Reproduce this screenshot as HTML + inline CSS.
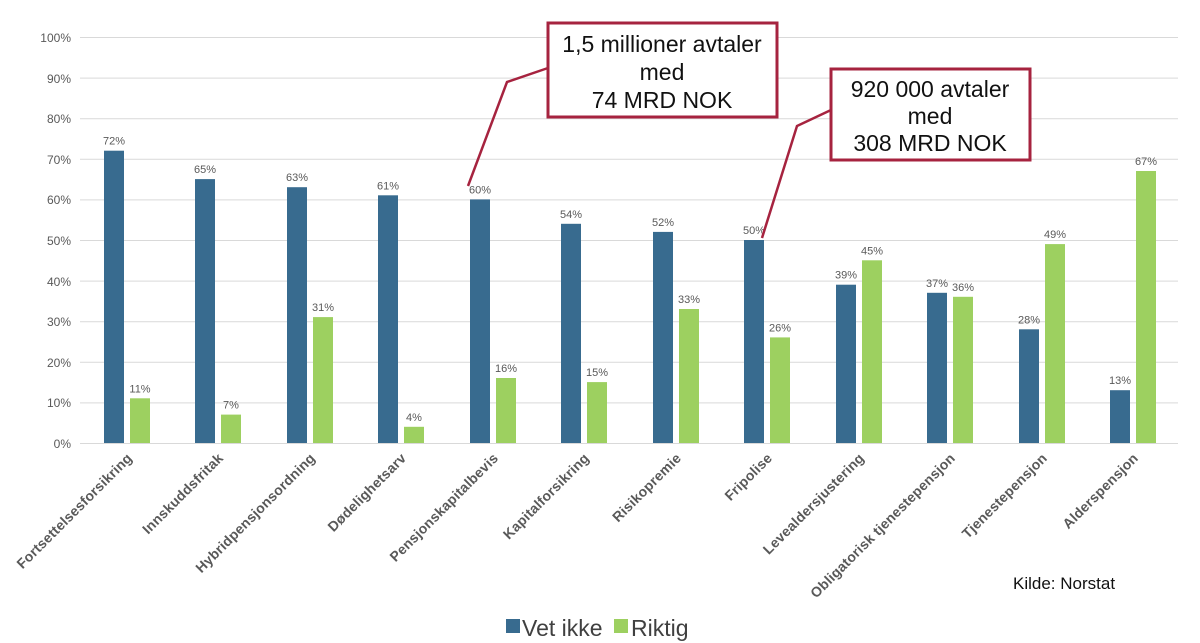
<!DOCTYPE html>
<html><head><meta charset="utf-8"><style>
html,body{margin:0;padding:0;background:#fff;}
svg{display:block;font-family:"Liberation Sans",Arial,sans-serif;}
</style></head><body>
<svg width="1200" height="643" viewBox="0 0 1200 643">
<g stroke="#d9d9d9" stroke-width="1">
<line x1="80" x2="1178" y1="443.5" y2="443.5"/>
<line x1="80" x2="1178" y1="402.9" y2="402.9"/>
<line x1="80" x2="1178" y1="362.3" y2="362.3"/>
<line x1="80" x2="1178" y1="321.7" y2="321.7"/>
<line x1="80" x2="1178" y1="281.1" y2="281.1"/>
<line x1="80" x2="1178" y1="240.5" y2="240.5"/>
<line x1="80" x2="1178" y1="199.9" y2="199.9"/>
<line x1="80" x2="1178" y1="159.3" y2="159.3"/>
<line x1="80" x2="1178" y1="118.7" y2="118.7"/>
<line x1="80" x2="1178" y1="78.1" y2="78.1"/>
<line x1="80" x2="1178" y1="37.5" y2="37.5"/>
</g>
<g font-size="12" fill="#595959" text-anchor="end">
<text x="71" y="448">0%</text><text x="71" y="407">10%</text><text x="71" y="367">20%</text>
<text x="71" y="326">30%</text><text x="71" y="286">40%</text><text x="71" y="245">50%</text>
<text x="71" y="204">60%</text><text x="71" y="164">70%</text><text x="71" y="123">80%</text>
<text x="71" y="83">90%</text><text x="71" y="42">100%</text>
</g>
<g fill="#386b8f">
<rect x="104" y="150.7" width="20" height="292.3"/>
<rect x="195" y="179.1" width="20" height="263.9"/>
<rect x="287" y="187.2" width="20" height="255.8"/>
<rect x="378" y="195.3" width="20" height="247.7"/>
<rect x="470" y="199.4" width="20" height="243.6"/>
<rect x="561" y="223.8" width="20" height="219.2"/>
<rect x="653" y="231.9" width="20" height="211.1"/>
<rect x="744" y="240" width="20" height="203"/>
<rect x="836" y="284.7" width="20" height="158.3"/>
<rect x="927" y="292.8" width="20" height="150.2"/>
<rect x="1019" y="329.3" width="20" height="113.7"/>
<rect x="1110" y="390.2" width="20" height="52.8"/>
</g>
<g fill="#9dd060">
<rect x="130" y="398.3" width="20" height="44.7"/>
<rect x="221" y="414.6" width="20" height="28.4"/>
<rect x="313" y="317.1" width="20" height="125.9"/>
<rect x="404" y="426.8" width="20" height="16.2"/>
<rect x="496" y="378" width="20" height="65"/>
<rect x="587" y="382.1" width="20" height="60.9"/>
<rect x="679" y="309" width="20" height="134"/>
<rect x="770" y="337.4" width="20" height="105.6"/>
<rect x="862" y="260.3" width="20" height="182.7"/>
<rect x="953" y="296.8" width="20" height="146.2"/>
<rect x="1045" y="244.1" width="20" height="198.9"/>
<rect x="1136" y="171" width="20" height="272"/>
</g>
<g font-size="11" fill="#595959" text-anchor="middle">
<text x="114" y="144.7">72%</text><text x="140" y="392.3">11%</text>
<text x="205" y="173.1">65%</text><text x="231" y="408.6">7%</text>
<text x="297" y="181.2">63%</text><text x="323" y="311.1">31%</text>
<text x="388" y="189.3">61%</text><text x="414" y="420.8">4%</text>
<text x="480" y="193.4">60%</text><text x="506" y="372">16%</text>
<text x="571" y="217.8">54%</text><text x="597" y="376.1">15%</text>
<text x="663" y="225.9">52%</text><text x="689" y="303">33%</text>
<text x="754" y="234">50%</text><text x="780" y="331.4">26%</text>
<text x="846" y="278.7">39%</text><text x="872" y="254.3">45%</text>
<text x="937" y="286.8">37%</text><text x="963" y="290.8">36%</text>
<text x="1029" y="323.3">28%</text><text x="1055" y="238.1">49%</text>
<text x="1120" y="384.2">13%</text><text x="1146" y="165">67%</text>
</g>
<g font-size="14" font-weight="bold" fill="#595959" text-anchor="end" letter-spacing="0.2">
<text transform="translate(133,459) rotate(-45)">Fortsettelsesforsikring</text>
<text transform="translate(224,459) rotate(-45)">Innskuddsfritak</text>
<text transform="translate(316,459) rotate(-45)">Hybridpensjonsordning</text>
<text transform="translate(407,459) rotate(-45)">Dødelighetsarv</text>
<text transform="translate(499,459) rotate(-45)">Pensjonskapitalbevis</text>
<text transform="translate(590,459) rotate(-45)">Kapitalforsikring</text>
<text transform="translate(682,459) rotate(-45)">Risikopremie</text>
<text transform="translate(773,459) rotate(-45)">Fripolise</text>
<text transform="translate(865,459) rotate(-45)">Levealdersjustering</text>
<text transform="translate(956,459) rotate(-45)">Obligatorisk tjenestepensjon</text>
<text transform="translate(1048,459) rotate(-45)">Tjenestepensjon</text>
<text transform="translate(1139,459) rotate(-45)">Alderspensjon</text>
</g>
<g fill="none" stroke="#a6233f" stroke-width="2.5">
<polyline points="548,68 507,82 468,186"/>
<polyline points="831,110 797,126 762,238"/>
</g>
<rect x="548" y="23" width="229" height="94" fill="#fff" stroke="#a6233f" stroke-width="3"/>
<rect x="831" y="69" width="199" height="91" fill="#fff" stroke="#a6233f" stroke-width="3"/>
<g font-size="23" fill="#111" text-anchor="middle">
<text x="662" y="52">1,5 millioner avtaler</text><text x="662" y="80">med</text><text x="662" y="108">74 MRD NOK</text>
<text x="930" y="97">920 000 avtaler</text><text x="930" y="124">med</text><text x="930" y="151">308 MRD NOK</text>
</g>
<text x="1013" y="589" font-size="17" fill="#111">Kilde: Norstat</text>
<rect x="506" y="619" width="14" height="14" fill="#386b8f"/>
<text x="522" y="636" font-size="23" fill="#404040">Vet ikke</text>
<rect x="614" y="619" width="14" height="14" fill="#9dd060"/>
<text x="631" y="636" font-size="23" fill="#404040">Riktig</text>
</svg>
</body></html>
